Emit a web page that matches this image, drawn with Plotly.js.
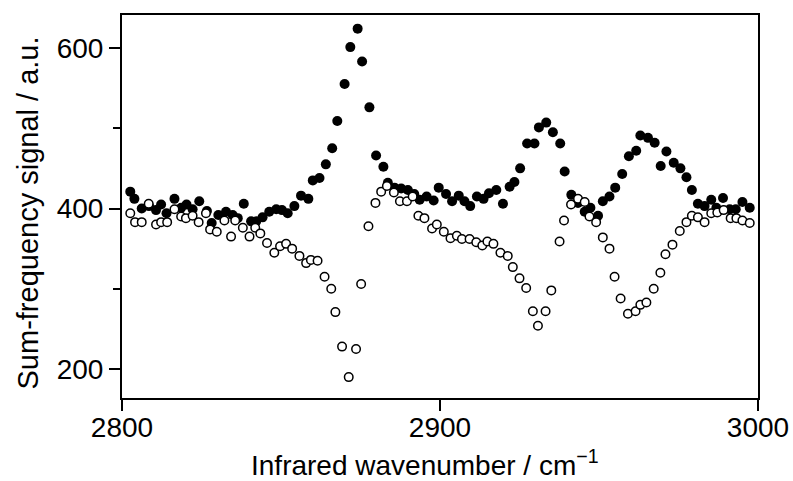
<!DOCTYPE html>
<html>
<head>
<meta charset="utf-8">
<script src="https://cdn.plot.ly/plotly-3.0.1.min.js"></script>
<style>html,body{margin:0;padding:0;background:#fff;}#chart{width:793px;height:481px;}</style>
</head>
<body>
<div id="chart"></div>
<script>
// Filled circles (series 1)
const filledX = [2802.6,2803.9,2806.2,2808.5,2810.7,2812.3,2814.0,2816.5,2818.6,2820.3,2822.2,2824.3,2826.7,2828.2,2830.3,2832.7,2834.8,2836.4,2838.3,2840.6,2842.2,2844.2,2846.3,2848.5,2850.3,2852.1,2854.2,2856.3,2858.6,2860.0,2862.1,2864.1,2866.1,2867.7,2870.0,2871.8,2874.1,2875.5,2877.8,2879.9,2882.2,2883.6,2885.7,2887.8,2889.9,2891.9,2893.6,2895.8,2898.0,2899.6,2901.9,2903.8,2905.9,2907.7,2909.5,2911.6,2913.7,2915.4,2917.7,2919.8,2921.9,2923.4,2925.2,2927.4,2929.7,2931.1,2933.4,2935.5,2937.8,2939.2,2941.3,2943.4,2945.5,2947.3,2949.7,2951.2,2953.3,2955.1,2957.3,2959.4,2961.7,2963.0,2965.4,2967.5,2969.4,2971.2,2973.5,2975.6,2977.5,2979.2,2981.1,2983.2,2985.3,2986.9,2989.0,2991.1,2993.0,2995.1,2997.4];
const filledY = [421,412,400,403,398,405,394,412,401,405,399,409,397,382,392,396,392,388,406,384,384,389,396,399,398,394,403,416,412,435,438,455,475,509,555,601,624,583,526,466,452,432,426,425,423,418,411,415,410,426,418,409,416,409,403,415,412,419,423,406,427,433,450,481,481,501,507,495,481,446,417,407,396,401,391,409,415,426,443,465,472,491,488,482,453,471,457,450,439,423,406,403,411,401,413,399,399,408,401];
// Open circles (series 2)
const openX = [2802.6,2804.1,2806.2,2808.4,2810.7,2812.3,2814.2,2816.5,2818.6,2820.1,2822.2,2824.1,2826.4,2827.7,2829.8,2832.2,2834.3,2835.6,2838.0,2840.1,2841.9,2843.5,2845.6,2847.9,2849.7,2851.6,2853.5,2855.8,2857.9,2859.4,2861.5,2863.7,2865.8,2867.1,2869.2,2871.3,2873.6,2875.2,2877.5,2879.7,2881.5,2883.3,2885.5,2887.4,2889.6,2891.4,2893.2,2895.1,2897.5,2899.0,2901.2,2903.3,2905.3,2906.9,2909.3,2911.4,2913.3,2914.9,2916.8,2919.0,2921.3,2922.9,2925.0,2927.1,2929.2,2930.8,2933.2,2935.0,2937.6,2939.0,2941.2,2943.4,2945.5,2947.0,2949.1,2951.2,2953.3,2954.9,2956.8,2959.1,2961.5,2963.0,2964.9,2967.2,2969.3,2970.9,2973.1,2975.4,2977.5,2979.2,2981.1,2983.2,2985.3,2987.2,2989.2,2991.4,2993.2,2995.1,2997.4];
const openY = [394,383,383,406,380,383,383,399,390,388,391,383,394,374,371,385,365,385,376,365,376,369,357,345,353,356,350,341,332,336,335,315,300,271,228,190,225,306,378,407,421,428,420,409,409,415,391,388,375,380,371,363,366,362,362,358,354,359,356,345,341,327,313,301,272,254,272,298,359,385,405,412,408,390,383,364,350,315,288,269,272,280,283,300,320,343,355,372,383,391,389,383,394,395,398,388,388,385,382];
const xTickVals = [2800, 2900, 3000];
const yTickVals = [200, 400, 600];
const xTitle = 'Infrared wavenumber / cm<sup>−1</sup>';
const yTitle = 'Sum-frequency signal / a.u.';

const FONT = '"Liberation Sans", Arial, Helvetica, sans-serif';
const traces = [
  {x: filledX, y: filledY, mode: 'markers', type: 'scatter',
   marker: {symbol: 'circle', size: 10, color: '#000', line: {width: 0}}},
  {x: openX, y: openY, mode: 'markers', type: 'scatter',
   marker: {symbol: 'circle', size: 8.5, color: '#fff', line: {width: 1.5, color: '#000'}}}
];
const layout = {
  width: 793, height: 481,
  margin: {l: 122, r: 35, t: 15, b: 83},
  paper_bgcolor: '#fff', plot_bgcolor: '#fff',
  showlegend: false,
  font: {family: FONT, size: 28, color: '#000'},
  xaxis: {
    range: [2800, 3000], tickvals: xTickVals, ticktext: xTickVals.map(String),
    showgrid: false, zeroline: false,
    showline: true, mirror: true, linecolor: '#000', linewidth: 2,
    ticks: 'outside', ticklen: 11, tickwidth: 2, tickcolor: '#000',
    ticklabelstandoff: -8,
    tickfont: {family: FONT, size: 28, color: '#000'}
  },
  yaxis: {
    range: [164, 641], tickvals: yTickVals, ticktext: yTickVals.map(String),
    showgrid: false, zeroline: false,
    showline: true, mirror: true, linecolor: '#000', linewidth: 2,
    ticks: 'outside', ticklen: 11, tickwidth: 2, tickcolor: '#000',
    minor: {tickvals: [300, 500], ticks: 'outside', ticklen: 7, tickwidth: 2, tickcolor: '#000', showgrid: false},
    tickfont: {family: FONT, size: 28, color: '#000'}
  },
  annotations: [
    {text: xTitle, xref: 'paper', yref: 'paper', x: 0.477, y: -0.170,
     xanchor: 'center', yanchor: 'middle', showarrow: false,
     font: {family: FONT, size: 28, color: '#000'}},
    {text: yTitle, xref: 'paper', yref: 'paper', x: -0.148, y: 0.484,
     xanchor: 'center', yanchor: 'middle', showarrow: false, textangle: -90,
     font: {family: FONT, size: 29, color: '#000'}}
  ]
};
Plotly.newPlot('chart', traces, layout, {displayModeBar: false, staticPlot: true});
</script>
</body>
</html>
